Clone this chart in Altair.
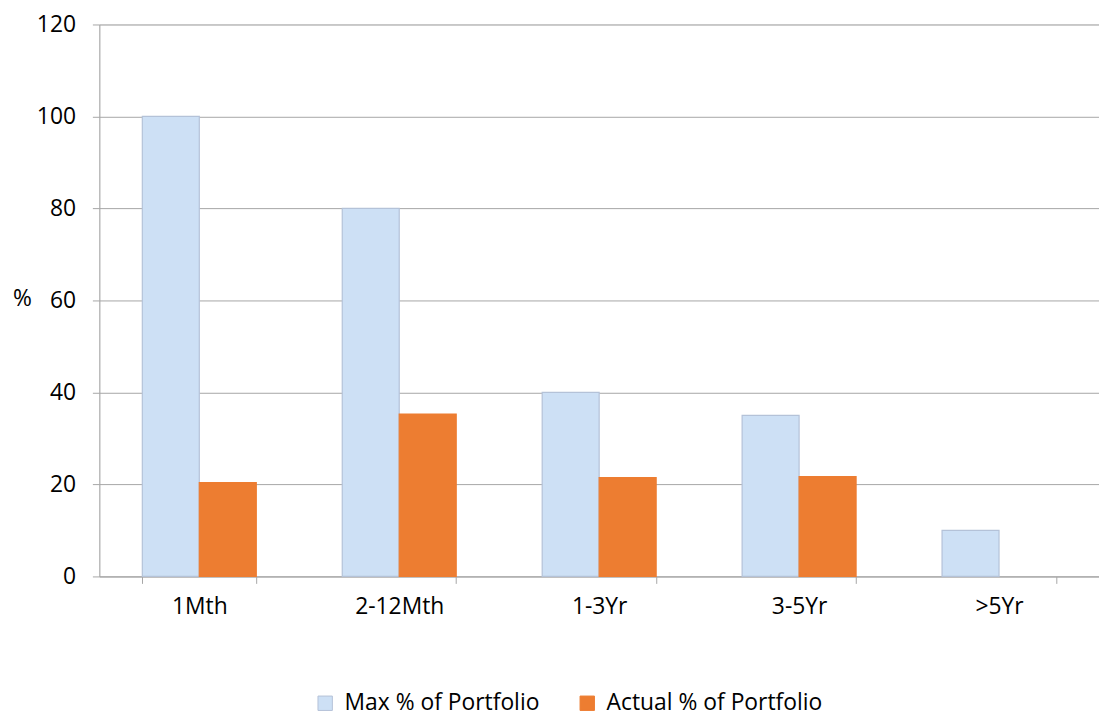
import altair as alt
import pandas as pd

categories = ["1Mth", "2-12Mth", "1-3Yr", "3-5Yr", ">5Yr"]
series = ["Max % of Portfolio", "Actual % of Portfolio"]
max_pct = [100, 80, 40, 35, 10]
actual_pct = [20.4, 35.3, 21.5, 21.7, None]

rows = []
for c, m, a in zip(categories, max_pct, actual_pct):
    rows.append({"cat": c, "series": series[0], "value": m})
    if a is not None:
        rows.append({"cat": c, "series": series[1], "value": a})
df = pd.DataFrame(rows)

FONT = "Open Sans"

chart = alt.Chart(df).mark_bar(strokeWidth=1.2).encode(
    x=alt.X("cat:N", sort=categories,
            scale=alt.Scale(paddingInner=0.43, paddingOuter=0.215),
            axis=alt.Axis(title=None, labelAngle=0, tickBand="extent",
                          domainColor="#a6a6a6", tickColor="#a6a6a6",
                          tickSize=7, labelPadding=12, labelFontSize=23,
                          labelFont=FONT, labelColor="#000000", grid=False)),
    xOffset=alt.XOffset("series:N", sort=series,
                        scale=alt.Scale(paddingInner=0, paddingOuter=0)),
    y=alt.Y("value:Q", scale=alt.Scale(domain=[0, 120]),
            axis=alt.Axis(title="%", titleAngle=0, titleX=-78, titleY=276,
                          titleAlign="center", titleBaseline="middle",
                          titleFontSize=23, titleFont=FONT, titleFontWeight="normal",
                          titleColor="#000000",
                          values=[0, 20, 40, 60, 80, 100, 120],
                          tickSize=7, labelPadding=17, labelFontSize=23,
                          labelFont=FONT, labelColor="#000000",
                          domainColor="#a6a6a6", tickColor="#a6a6a6",
                          gridColor="#a6a6a6", gridWidth=1)),
    fill=alt.Fill("series:N", sort=series,
                  scale=alt.Scale(domain=series, range=["#cde0f5", "#ed7d31"]),
                  legend=alt.Legend(title=None, orient="none", direction="horizontal",
                                    legendX=216, legendY=672,
                                    symbolType="square", symbolSize=210,
                                    symbolStrokeWidth=1,
                                    labelFontSize=23, labelFont=FONT, labelLimit=0,
                                    labelColor="#000000", columnPadding=36,
                                    labelOffset=8)),
    stroke=alt.Stroke("series:N", sort=series,
                      scale=alt.Scale(domain=series, range=["#b4c2d8", "#ed7d31"]),
                      legend=None),
).properties(
    width=1007, height=556,
    autosize=alt.AutoSizeParams(type="none"),
    padding={"left": 92, "top": 14, "right": 0, "bottom": 138},
).configure_view(stroke=None).configure(background="white")

chart.save("out.html", embed_options={"renderer": "svg", "actions": False})
